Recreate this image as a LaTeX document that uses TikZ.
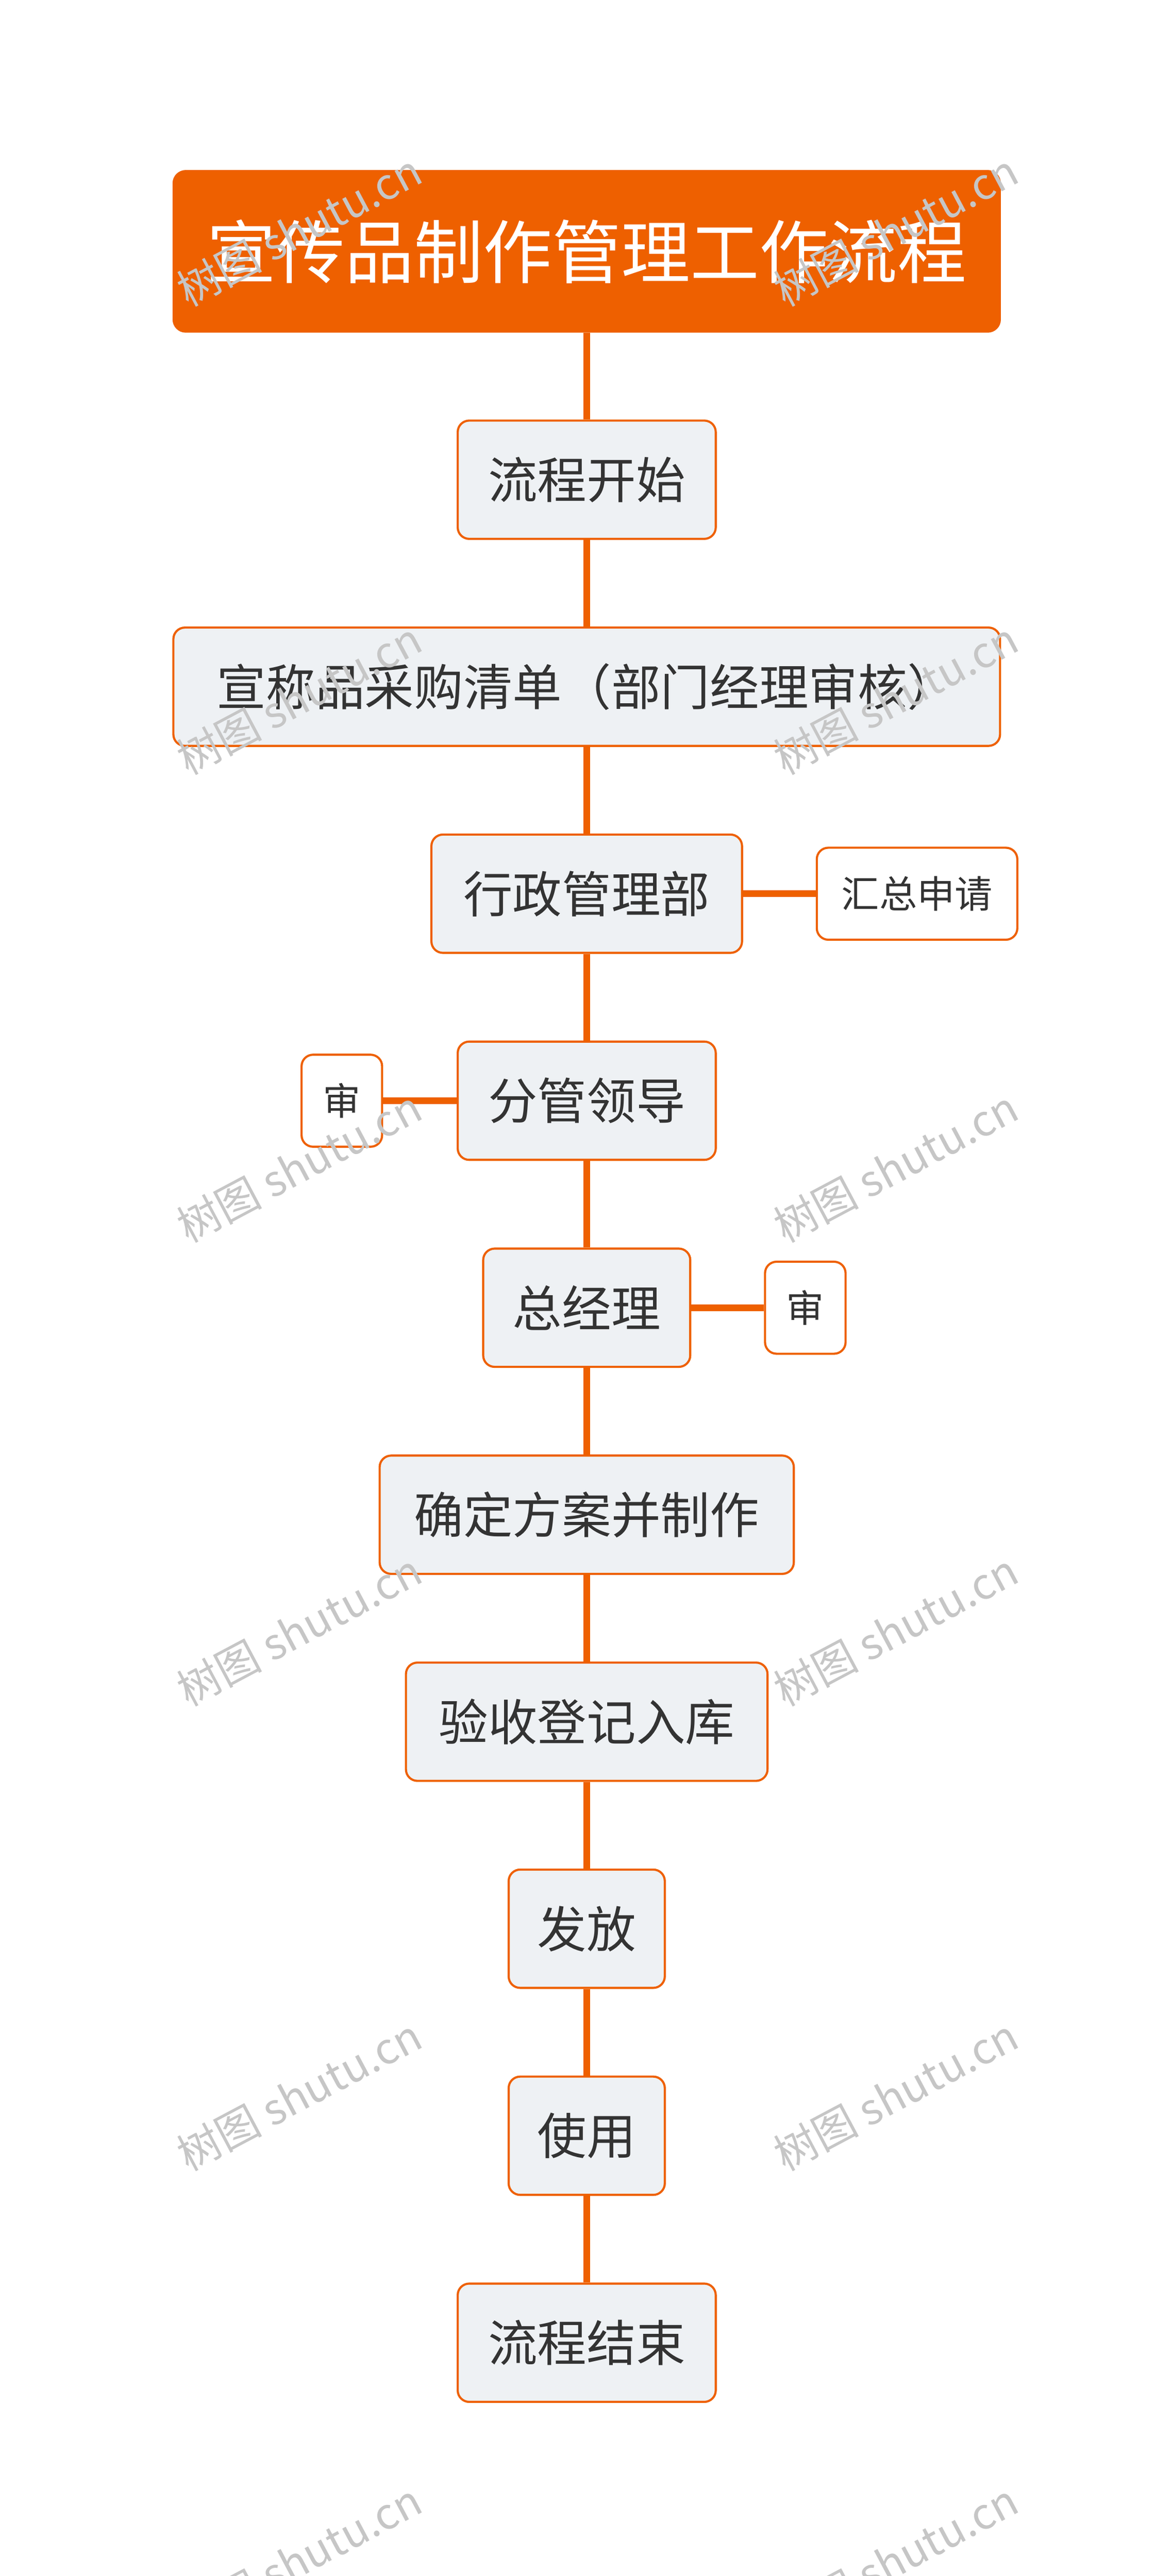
\documentclass[tikz,border=0pt]{standalone}
\usepackage{fontspec}
\setmainfont{Noto Sans CJK SC}
\definecolor{brand}{HTML}{EE6000}
\definecolor{boxfill}{HTML}{EEF1F4}
\definecolor{ink}{HTML}{333333}
\tikzset{
	stepbox/.style={draw=brand, line width=1.3pt, fill=boxfill, rounded corners=7pt,
		text=ink, font=\fontsize{30}{36}\selectfont, inner sep=0pt, minimum height=72pt},
	sidebox/.style={draw=brand, line width=1.3pt, fill=white, rounded corners=7pt,
		text=ink, font=\fontsize{23}{28}\selectfont, inner sep=0pt, minimum height=56pt},
	link/.style={draw=brand, line width=4pt},
	mark/.style={}, 
	wmark/.style={text=gray!45, rotate=28, font=\fontsize{26}{30}\selectfont}
}
\begin{document}
\begin{tikzpicture}[x=1pt, y=-1pt]
	\useasboundingbox (0,0) rectangle (713,1568);
	% spine
	\node[fill=brand, rounded corners=8pt, text=white, inner sep=0pt,
		minimum width=504pt, minimum height=99pt, font=\fontsize{42}{50}\selectfont]
		(title) at (357,153) {宣传品制作管理工作流程};
	\node[stepbox, minimum width=157pt](start) at (357,292) {流程开始};
	\node[stepbox, minimum width=503pt](list) at (357,418) {宣称品采购清单（部门经理审核）};
	\node[stepbox, minimum width=189pt](admin) at (357,544) {行政管理部};
	\node[stepbox, minimum width=157pt](lead) at (357,670) {分管领导};
	\node[stepbox, minimum width=126pt](gm) at (357,796) {总经理};
	\node[stepbox, minimum width=252pt](plan) at (357,922) {确定方案并制作};
	\node[stepbox, minimum width=220pt](check) at (357,1048) {验收登记入库};
	\node[stepbox, minimum width=95pt](issue) at (357,1174) {发放};
	\node[stepbox, minimum width=95pt](use) at (357,1300) {使用};
	\node[stepbox, minimum width=157pt](stop) at (357,1426) {流程结束};
	% side notes
	\node[sidebox, minimum width=122pt](sum) at (558,544) {汇总申请};
	\node[sidebox, minimum width=49pt](rev1) at (208,670) {审};
	\node[sidebox, minimum width=49pt](rev2) at (490,796) {审};
	% connectors
	\foreach \a/\b in {title/start, start/list, list/admin, admin/lead, lead/gm,
		gm/plan, plan/check, check/issue, issue/use, use/stop}
		\draw[link] (\a.south) -- (\b.north);
	\draw[link] (admin.east) -- (sum.west);
	\draw[link] (lead.west) -- (rev1.east);
	\draw[link] (gm.east) -- (rev2.west);
	% watermarks
	\foreach \y in {140,425,710,992,1275,1558}{
		\node[wmark] (wl\y) at (182,\y) {树图 shutu.cn};
		\node[wmark] (wr\y) at (545,\y) {树图 shutu.cn};
	}
\end{tikzpicture}
\end{document}
